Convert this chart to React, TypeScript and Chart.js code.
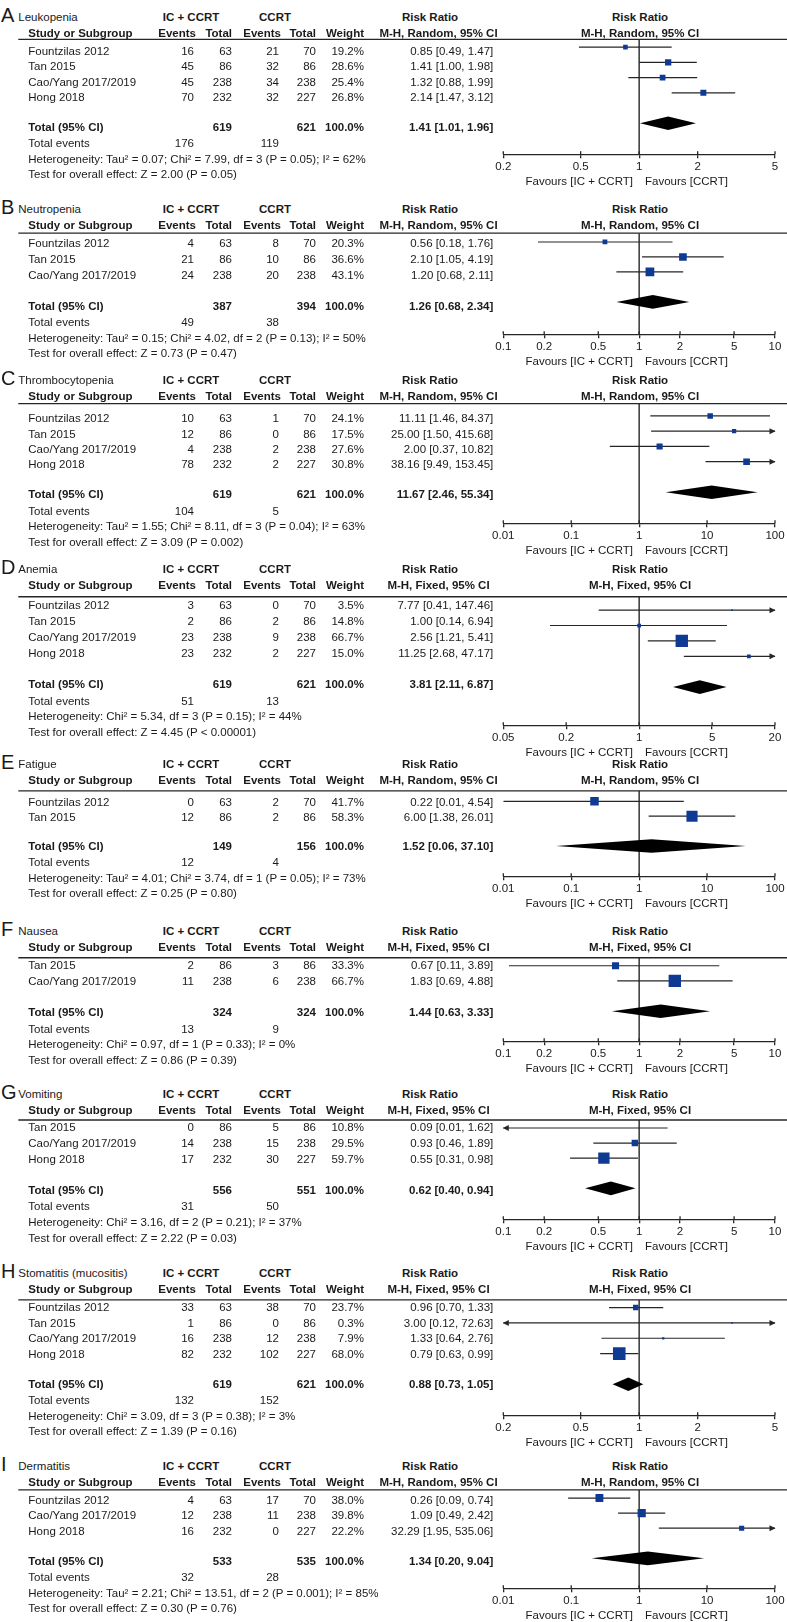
import React, { useEffect, useRef } from 'react';
import { Chart, registerables } from 'chart.js';

Chart.register(...registerables);

// ---------------- DATA ----------------
const panelLetters = ['A', 'B', 'C', 'D', 'E', 'F', 'G', 'H', 'I'];
const panelTitles = ['Leukopenia', 'Neutropenia', 'Thrombocytopenia', 'Anemia', 'Fatigue', 'Nausea', 'Vomiting', 'Stomatitis (mucositis)', 'Dermatitis'];
const panelModels = ['Random', 'Random', 'Random', 'Fixed', 'Random', 'Fixed', 'Fixed', 'Fixed', 'Random'];

// A Leukopenia
const studiesA = ['Fountzilas 2012', 'Tan 2015', 'Cao/Yang 2017/2019', 'Hong 2018'];
const expEventsA = [16, 45, 45, 70];
const expTotalA = [63, 86, 238, 232];
const ctlEventsA = [21, 32, 34, 32];
const ctlTotalA = [70, 86, 238, 227];
const weightA = [19.2, 28.6, 25.4, 26.8];
const rrA = [0.85, 1.41, 1.32, 2.14];
const lowA = [0.49, 1.0, 0.88, 1.47];
const highA = [1.47, 1.98, 1.99, 3.12];

// B Neutropenia
const studiesB = ['Fountzilas 2012', 'Tan 2015', 'Cao/Yang 2017/2019'];
const expEventsB = [4, 21, 24];
const expTotalB = [63, 86, 238];
const ctlEventsB = [8, 10, 20];
const ctlTotalB = [70, 86, 238];
const weightB = [20.3, 36.6, 43.1];
const rrB = [0.56, 2.1, 1.2];
const lowB = [0.18, 1.05, 0.68];
const highB = [1.76, 4.19, 2.11];

// C Thrombocytopenia
const studiesC = ['Fountzilas 2012', 'Tan 2015', 'Cao/Yang 2017/2019', 'Hong 2018'];
const expEventsC = [10, 12, 4, 78];
const expTotalC = [63, 86, 238, 232];
const ctlEventsC = [1, 0, 2, 2];
const ctlTotalC = [70, 86, 238, 227];
const weightC = [24.1, 17.5, 27.6, 30.8];
const rrC = [11.11, 25.0, 2.0, 38.16];
const lowC = [1.46, 1.5, 0.37, 9.49];
const highC = [84.37, 415.68, 10.82, 153.45];

// D Anemia
const studiesD = ['Fountzilas 2012', 'Tan 2015', 'Cao/Yang 2017/2019', 'Hong 2018'];
const expEventsD = [3, 2, 23, 23];
const expTotalD = [63, 86, 238, 232];
const ctlEventsD = [0, 2, 9, 2];
const ctlTotalD = [70, 86, 238, 227];
const weightD = [3.5, 14.8, 66.7, 15.0];
const rrD = [7.77, 1.0, 2.56, 11.25];
const lowD = [0.41, 0.14, 1.21, 2.68];
const highD = [147.46, 6.94, 5.41, 47.17];

// E Fatigue
const studiesE = ['Fountzilas 2012', 'Tan 2015'];
const expEventsE = [0, 12];
const expTotalE = [63, 86];
const ctlEventsE = [2, 2];
const ctlTotalE = [70, 86];
const weightE = [41.7, 58.3];
const rrE = [0.22, 6.0];
const lowE = [0.01, 1.38];
const highE = [4.54, 26.01];

// F Nausea
const studiesF = ['Tan 2015', 'Cao/Yang 2017/2019'];
const expEventsF = [2, 11];
const expTotalF = [86, 238];
const ctlEventsF = [3, 6];
const ctlTotalF = [86, 238];
const weightF = [33.3, 66.7];
const rrF = [0.67, 1.83];
const lowF = [0.11, 0.69];
const highF = [3.89, 4.88];

// G Vomiting
const studiesG = ['Tan 2015', 'Cao/Yang 2017/2019', 'Hong 2018'];
const expEventsG = [0, 14, 17];
const expTotalG = [86, 238, 232];
const ctlEventsG = [5, 15, 30];
const ctlTotalG = [86, 238, 227];
const weightG = [10.8, 29.5, 59.7];
const rrG = [0.09, 0.93, 0.55];
const lowG = [0.01, 0.46, 0.31];
const highG = [1.62, 1.89, 0.98];

// H Stomatitis
const studiesH = ['Fountzilas 2012', 'Tan 2015', 'Cao/Yang 2017/2019', 'Hong 2018'];
const expEventsH = [33, 1, 16, 82];
const expTotalH = [63, 86, 238, 232];
const ctlEventsH = [38, 0, 12, 102];
const ctlTotalH = [70, 86, 238, 227];
const weightH = [23.7, 0.3, 7.9, 68.0];
const rrH = [0.96, 3.0, 1.33, 0.79];
const lowH = [0.7, 0.12, 0.64, 0.63];
const highH = [1.33, 72.63, 2.76, 0.99];

// I Dermatitis
const studiesI = ['Fountzilas 2012', 'Cao/Yang 2017/2019', 'Hong 2018'];
const expEventsI = [4, 12, 16];
const expTotalI = [63, 238, 232];
const ctlEventsI = [17, 11, 0];
const ctlTotalI = [70, 238, 227];
const weightI = [38.0, 39.8, 22.2];
const rrI = [0.26, 1.09, 32.29];
const lowI = [0.09, 0.49, 1.95];
const highI = [0.74, 2.42, 535.06];

// Summary rows
const totalExp = [619, 387, 619, 619, 149, 324, 556, 619, 533];
const totalCtl = [621, 394, 621, 621, 156, 324, 551, 621, 535];
const totalEventsExp = [176, 49, 104, 51, 12, 13, 31, 132, 32];
const totalEventsCtl = [119, 38, 5, 13, 4, 9, 50, 152, 28];
const pooledRR = [1.41, 1.26, 11.67, 3.81, 1.52, 1.44, 0.62, 0.88, 1.34];
const pooledLow = [1.01, 0.68, 2.46, 2.11, 0.06, 0.63, 0.4, 0.73, 0.2];
const pooledHigh = [1.96, 2.34, 55.34, 6.87, 37.1, 3.33, 0.94, 1.05, 9.04];
const heterogeneityText = [
  'Heterogeneity: Tau² = 0.07; Chi² = 7.99, df = 3 (P = 0.05); I² = 62%',
  'Heterogeneity: Tau² = 0.15; Chi² = 4.02, df = 2 (P = 0.13); I² = 50%',
  'Heterogeneity: Tau² = 1.55; Chi² = 8.11, df = 3 (P = 0.04); I² = 63%',
  'Heterogeneity: Chi² = 5.34, df = 3 (P = 0.15); I² = 44%',
  'Heterogeneity: Tau² = 4.01; Chi² = 3.74, df = 1 (P = 0.05); I² = 73%',
  'Heterogeneity: Chi² = 0.97, df = 1 (P = 0.33); I² = 0%',
  'Heterogeneity: Chi² = 3.16, df = 2 (P = 0.21); I² = 37%',
  'Heterogeneity: Chi² = 3.09, df = 3 (P = 0.38); I² = 3%',
  'Heterogeneity: Tau² = 2.21; Chi² = 13.51, df = 2 (P = 0.001); I² = 85%',
];
const overallEffectText = [
  'Test for overall effect: Z = 2.00 (P = 0.05)',
  'Test for overall effect: Z = 0.73 (P = 0.47)',
  'Test for overall effect: Z = 3.09 (P = 0.002)',
  'Test for overall effect: Z = 4.45 (P < 0.00001)',
  'Test for overall effect: Z = 0.25 (P = 0.80)',
  'Test for overall effect: Z = 0.86 (P = 0.39)',
  'Test for overall effect: Z = 2.22 (P = 0.03)',
  'Test for overall effect: Z = 1.39 (P = 0.16)',
  'Test for overall effect: Z = 0.30 (P = 0.76)',
];
const axisTicks = [
  [0.2, 0.5, 1, 2, 5],
  [0.1, 0.2, 0.5, 1, 2, 5, 10],
  [0.01, 0.1, 1, 10, 100],
  [0.05, 0.2, 1, 5, 20],
  [0.01, 0.1, 1, 10, 100],
  [0.1, 0.2, 0.5, 1, 2, 5, 10],
  [0.1, 0.2, 0.5, 1, 2, 5, 10],
  [0.2, 0.5, 1, 2, 5],
  [0.01, 0.1, 1, 10, 100],
];
const favoursLeft = 'Favours [IC + CCRT]';
const favoursRight = 'Favours [CCRT]';

const studyLists = [studiesA, studiesB, studiesC, studiesD, studiesE, studiesF, studiesG, studiesH, studiesI];
const expEventsLists = [expEventsA, expEventsB, expEventsC, expEventsD, expEventsE, expEventsF, expEventsG, expEventsH, expEventsI];
const expTotalLists = [expTotalA, expTotalB, expTotalC, expTotalD, expTotalE, expTotalF, expTotalG, expTotalH, expTotalI];
const ctlEventsLists = [ctlEventsA, ctlEventsB, ctlEventsC, ctlEventsD, ctlEventsE, ctlEventsF, ctlEventsG, ctlEventsH, ctlEventsI];
const ctlTotalLists = [ctlTotalA, ctlTotalB, ctlTotalC, ctlTotalD, ctlTotalE, ctlTotalF, ctlTotalG, ctlTotalH, ctlTotalI];
const weightLists = [weightA, weightB, weightC, weightD, weightE, weightF, weightG, weightH, weightI];
const rrLists = [rrA, rrB, rrC, rrD, rrE, rrF, rrG, rrH, rrI];
const lowLists = [lowA, lowB, lowC, lowD, lowE, lowF, lowG, lowH, lowI];
const highLists = [highA, highB, highC, highD, highE, highF, highG, highH, highI];

// ---------------- LAYOUT (pixels) ----------------
const W = 787;
const H = 1622;
const FONT = "'Liberation Sans', Arial, Helvetica, sans-serif";
const FS = 11.5;
const TEXT = '#1a1a1a';
const INK = '#262626';
const BLUE = '#0e3a94';
const headerLineY = [39, 231, 402.7, 591.7, 786.7, 953.3, 1116, 1295, 1488.3];
const axisOffset = [115.3, 103, 120.6, 133.3, 89.3, 87.4, 103, 120, 99.4];
const markOffset = [7.7, 9, 12.3, 13.9, 11, 8.4, 8.3, 8, 8.4];
const markGap = [15.3, 15.3, 15.4, 16, 15.6, 16, 15.7, 16, 15.3];
const textOffset = [11.7, 11.5, 15.5, 13.5, 15, 12, 11, 12, 11.7];
const textGap = [15.4, 16, 15.4, 16, 15, 16, 16, 15.5, 15.4];
const PLOT_LEFT = 503.3;
const PLOT_RIGHT = 775;
const TICK_LEN = 4;
const TICK_PAD = 2;

const f2 = (v: number) => v.toFixed(2);
const ciText = (r: number, l: number, h: number) => `${f2(r)} [${f2(l)}, ${f2(h)}]`;

type TxtProps = { x: number; y: number; children: React.ReactNode; align?: 'left' | 'right' | 'center'; bold?: boolean; size?: number };
function Txt({ x, y, children, align = 'left', bold = false, size = FS }: TxtProps) {
  const lh = Math.round(size * 1.22);
  const style: React.CSSProperties = {
    position: 'absolute',
    top: y - lh / 2,
    height: lh,
    lineHeight: lh + 'px',
    fontSize: size,
    fontWeight: bold ? 'bold' : 'normal',
    whiteSpace: 'nowrap',
    color: TEXT,
    fontFamily: FONT,
  };
  if (align === 'left') style.left = x;
  else if (align === 'right') { style.left = x - 400; style.width = 400; style.textAlign = 'right'; }
  else { style.left = x - 200; style.width = 400; style.textAlign = 'center'; }
  return <div style={style}>{children}</div>;
}

function ForestCanvas({ p }: { p: number }) {
  const ref = useRef<HTMLCanvasElement>(null);
  const U = headerLineY[p];
  const axisY = U + axisOffset[p];
  const top = Math.round(U) - 4;
  const xAxisH = TICK_LEN + TICK_PAD * 2 + FS * 1.2;
  const height = Math.round(axisY - top + xAxisH);

  useEffect(() => {
    const rr = rrLists[p];
    const lo = lowLists[p];
    const hi = highLists[p];
    const wt = weightLists[p];
    const n = rr.length;
    const ticks = axisTicks[p];
    const xMin = ticks[0];
    const xMax = ticks[ticks.length - 1];
    const chartTop = U - top;
    const chartBottom = height - xAxisH;
    const pxPerRow = markGap[p];
    const yTop = -markOffset[p] / pxPerRow;
    const yBot = yTop + (chartBottom - chartTop) / pxPerRow;
    const totalRow = n + 1;

    const boxSide = (w: number) => Math.max(1.6, 0.43 * Math.pow(w, 0.8));

    const datasets: any[] = [
      {
        label: 'studies',
        data: rr.map((v, i) => ({ x: v, y: i })),
        pointStyle: 'rect',
        pointRadius: wt.map((w) => boxSide(w) / (2 * Math.SQRT1_2)),
        backgroundColor: BLUE,
        borderColor: BLUE,
        borderWidth: 0,
        showLine: false,
      },
      ...lo.map((l, i) => ({
        label: 'ci' + i,
        data: [{ x: l, y: i }, { x: hi[i], y: i }],
        showLine: true,
        borderColor: INK,
        borderWidth: 1.2,
        pointRadius: 0,
      })),
      {
        label: 'null',
        data: [{ x: 1, y: yTop }, { x: 1, y: yBot }],
        showLine: true,
        borderColor: INK,
        borderWidth: 1.4,
        pointRadius: 0,
      },
    ];

    const forestPlugin = {
      id: 'forestExtras',
      afterDatasetsDraw(chart: any) {
        const { ctx } = chart;
        const xs = chart.scales.x;
        const ys = chart.scales.y;
        ctx.save();
        ctx.fillStyle = INK;
        lo.forEach((l, i) => {
          const y = ys.getPixelForValue(i);
          if (hi[i] > xMax) {
            const tip = xs.getPixelForValue(xMax);
            ctx.beginPath();
            ctx.moveTo(tip + 0.5, y);
            ctx.lineTo(tip - 5.5, y - 3);
            ctx.lineTo(tip - 5.5, y + 3);
            ctx.closePath();
            ctx.fill();
          }
          if (l < xMin) {
            const tip = xs.getPixelForValue(xMin);
            ctx.beginPath();
            ctx.moveTo(tip - 0.5, y);
            ctx.lineTo(tip + 5.5, y - 3);
            ctx.lineTo(tip + 5.5, y + 3);
            ctx.closePath();
            ctx.fill();
          }
        });
        const yc = ys.getPixelForValue(totalRow);
        const xl = xs.getPixelForValue(pooledLow[p]);
        const xm = xs.getPixelForValue(pooledRR[p]);
        const xh = xs.getPixelForValue(pooledHigh[p]);
        ctx.fillStyle = '#000';
        ctx.beginPath();
        ctx.moveTo(xl, yc);
        ctx.lineTo(xm, yc - 6.8);
        ctx.lineTo(xh, yc);
        ctx.lineTo(xm, yc + 6.8);
        ctx.closePath();
        ctx.fill();
        ctx.restore();
      },
      afterDraw(chart: any) {
        const { ctx, chartArea } = chart;
        const xs = chart.scales.x;
        ctx.save();
        ctx.strokeStyle = INK;
        ctx.lineWidth = 1.3;
        ctx.beginPath();
        ctx.moveTo(18.3, chartArea.top);
        ctx.lineTo(W, chartArea.top);
        ctx.stroke();
        xs.ticks.forEach((t: any) => {
          const x = xs.getPixelForValue(t.value);
          ctx.beginPath();
          ctx.moveTo(x, chartArea.bottom);
          ctx.lineTo(x, chartArea.bottom - 3);
          ctx.stroke();
        });
        ctx.restore();
      },
    };

    const chart = new Chart(ref.current as HTMLCanvasElement, {
      type: 'scatter',
      data: { datasets },
      options: {
        animation: false,
        responsive: false,
        events: [],
        layout: { padding: { left: PLOT_LEFT, right: W - PLOT_RIGHT, top: chartTop, bottom: 0 } },
        plugins: { legend: { display: false }, tooltip: { enabled: false }, title: { display: false } },
        scales: {
          x: {
            type: 'logarithmic',
            position: 'bottom',
            min: xMin,
            max: xMax,
            bounds: 'data',
            afterBuildTicks: (axis: any) => {
              axis.ticks = ticks.map((v) => ({ value: v }));
            },
            border: { display: true, color: INK, width: 1.3 },
            grid: { display: true, drawOnChartArea: false, drawTicks: true, tickLength: TICK_LEN, color: INK, lineWidth: 1.3 },
            ticks: {
              autoSkip: false,
              maxRotation: 0,
              padding: TICK_PAD,
              color: TEXT,
              font: { family: FONT, size: FS },
              callback: (v: any) => String(v),
            },
          },
          y: {
            type: 'linear',
            display: false,
            reverse: true,
            min: yTop,
            max: yBot,
            bounds: 'data',
          },
        },
      } as any,
      plugins: [forestPlugin],
    });
    return () => chart.destroy();
  }, [p]);

  return (
    <canvas
      ref={ref}
      width={W}
      height={height}
      style={{ position: 'absolute', left: 0, top, width: W, height }}
    />
  );
}

function Panel({ p }: { p: number }) {
  const U = headerLineY[p];
  const axisY = U + axisOffset[p];
  const studies = studyLists[p];
  const n = studies.length;
  const rowY = (i: number) => U + textOffset[p] + textGap[p] * i;
  const totalY = rowY(n + 1) - 1;
  const model = `M-H, ${panelModels[p]}, 95% CI`;
  const titleY = U - 22.5;
  const subY = U - 6.5;
  return (
    <>
      <ForestCanvas p={p} />
      <Txt x={1} y={titleY - 2} size={20}>{panelLetters[p]}</Txt>
      <Txt x={18.3} y={titleY}>{panelTitles[p]}</Txt>
      <Txt x={191} y={titleY} align="center" bold>IC + CCRT</Txt>
      <Txt x={275} y={titleY} align="center" bold>CCRT</Txt>
      <Txt x={430} y={titleY} align="center" bold>Risk Ratio</Txt>
      <Txt x={640} y={titleY} align="center" bold>Risk Ratio</Txt>

      <Txt x={28.3} y={subY} bold>Study or Subgroup</Txt>
      <Txt x={196} y={subY} align="right" bold>Events</Txt>
      <Txt x={232} y={subY} align="right" bold>Total</Txt>
      <Txt x={281} y={subY} align="right" bold>Events</Txt>
      <Txt x={316} y={subY} align="right" bold>Total</Txt>
      <Txt x={364} y={subY} align="right" bold>Weight</Txt>
      <Txt x={438.5} y={subY} align="center" bold>{model}</Txt>
      <Txt x={640} y={subY} align="center" bold>{model}</Txt>

      {studies.map((s, i) => (
        <React.Fragment key={s}>
          <Txt x={28.3} y={rowY(i)}>{s}</Txt>
          <Txt x={194} y={rowY(i)} align="right">{expEventsLists[p][i]}</Txt>
          <Txt x={232} y={rowY(i)} align="right">{expTotalLists[p][i]}</Txt>
          <Txt x={279} y={rowY(i)} align="right">{ctlEventsLists[p][i]}</Txt>
          <Txt x={316} y={rowY(i)} align="right">{ctlTotalLists[p][i]}</Txt>
          <Txt x={364} y={rowY(i)} align="right">{weightLists[p][i].toFixed(1)}%</Txt>
          <Txt x={493.3} y={rowY(i)} align="right">{ciText(rrLists[p][i], lowLists[p][i], highLists[p][i])}</Txt>
        </React.Fragment>
      ))}

      <Txt x={28.3} y={totalY} bold>Total (95% CI)</Txt>
      <Txt x={232} y={totalY} align="right" bold>{totalExp[p]}</Txt>
      <Txt x={316} y={totalY} align="right" bold>{totalCtl[p]}</Txt>
      <Txt x={364} y={totalY} align="right" bold>100.0%</Txt>
      <Txt x={493.3} y={totalY} align="right" bold>{ciText(pooledRR[p], pooledLow[p], pooledHigh[p])}</Txt>

      <Txt x={28.3} y={totalY + 16.3}>Total events</Txt>
      <Txt x={194} y={totalY + 16.3} align="right">{totalEventsExp[p]}</Txt>
      <Txt x={279} y={totalY + 16.3} align="right">{totalEventsCtl[p]}</Txt>
      <Txt x={28.3} y={totalY + 32}>{heterogeneityText[p]}</Txt>
      <Txt x={28.3} y={totalY + 47.7}>{overallEffectText[p]}</Txt>

      <Txt x={633} y={axisY + 27} align="right">{favoursLeft}</Txt>
      <Txt x={645} y={axisY + 27}>{favoursRight}</Txt>
    </>
  );
}

export default function App() {
  useEffect(() => {
    document.body.style.margin = '0';
  }, []);
  return (
    <div
      style={{
        position: 'absolute',
        left: 0,
        top: 0,
        width: W,
        height: H,
        background: '#fff',
        overflow: 'hidden',
        fontFamily: FONT,
      }}
    >
      {panelTitles.map((_, p) => (
        <Panel key={p} p={p} />
      ))}
    </div>
  );
}
